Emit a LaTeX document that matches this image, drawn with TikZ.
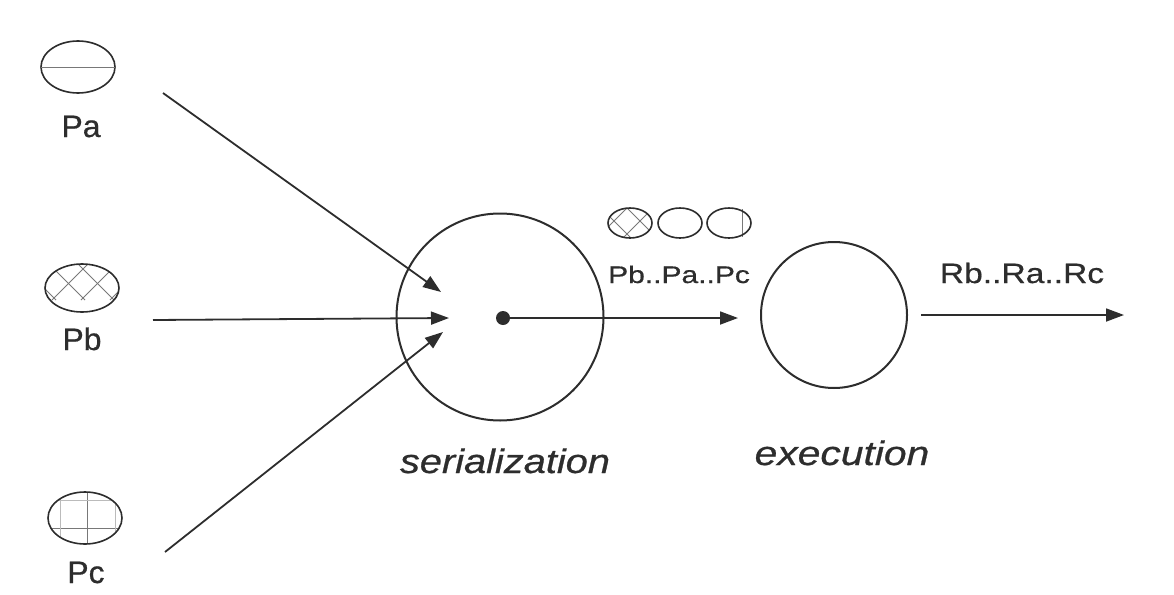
\documentclass[tikz,border=0pt]{standalone}
\usepackage{fontspec}
\setmainfont{Liberation Sans}[FakeBold=0.6]
\usetikzlibrary{arrows.meta}
\definecolor{ink}{RGB}{45,45,45}
\definecolor{hatch}{RGB}{120,120,120}
\tikzset{
  proc/.style={draw=ink, line width=1.6pt},
  bigcircle/.style={draw=ink, line width=2pt, circle, minimum size=#1, inner sep=0pt},
  flow/.style={draw=ink, line width=1.8pt, -{Triangle[length=18pt,width=13pt]}},
  lbl/.style={text=ink, inner sep=0pt, anchor=base},
  hl/.style={draw=hatch, line width=0.8pt}
}
\newcommand{\wlbl}[3]{{\fontsize{#1}{#1}\selectfont\scalebox{#2}[1]{#3}}}
\begin{document}
\begin{tikzpicture}[x=1pt,y=-1pt]
\useasboundingbox (0,0) rectangle (1174,594);
% Pa
\draw[proc] (78,67) ellipse [x radius=37, y radius=26];
\draw[hl] (41,67) -- (115,67);
\node[lbl] (pa) at (81,137) {\wlbl{31}{1.03}{Pa}};
\coordinate (pa0) at (163,93);
% Pb
\begin{scope}
\clip (82,288) ellipse [x radius=37, y radius=24];
\foreach \c in {294,323,352,381,410,439} {\draw[hl] (\c-300,300) -- (\c,0);}
\foreach \c in {-273,-244,-215,-186,-157,-128} {\draw[hl] (\c+300,300) -- (\c,0);}
\end{scope}
\draw[proc] (82,288) ellipse [x radius=37, y radius=24];
\node[lbl] (pb) at (82,350) {\wlbl{31}{1.03}{Pb}};
\coordinate (pb0) at (153,320);
% Pc
\begin{scope}
\clip (85,518) ellipse [x radius=37, y radius=26];
\draw[hl] (40,528) -- (130,528);
\draw[hl] (87,480) -- (87,560);
\draw[hl, draw=hatch!50] (60,480) -- (60,560);
\draw[hl, draw=hatch!50] (115,480) -- (115,560);
\draw[hl, draw=hatch!50] (40,500) -- (130,500);
\end{scope}
\draw[proc] (85,518) ellipse [x radius=37, y radius=26];
\node[lbl] (pc) at (86,583) {\wlbl{31}{1.03}{Pc}};
\coordinate (pc0) at (165,552);
% serialization
\node[bigcircle=207pt] (ser) at (500,317) {};
\fill[ink] (503,318) circle [radius=7] coordinate (dot);
\coordinate (ta) at (441,292);
\coordinate (tb) at (449,318);
\coordinate (tc) at (443,332);
\draw[flow] (pa0) -- (ta);
\draw[flow] (pb0) -- (tb);
\draw[flow] (pc0) -- (tc);
\coordinate (sout) at (738,318);
\draw[flow] (dot) -- (sout);
\node[lbl] (sl) at (505,473) {\wlbl{34}{1.17}{\itshape serialization}};
% small ellipses
\begin{scope}
\clip (630,223) ellipse [x radius=22, y radius=15];
\foreach \c in {835,861} {\draw[hl] (\c-300,300) -- (\c,0);}
\foreach \c in {393,419} {\draw[hl] (\c+300,300) -- (\c,0);}
\end{scope}
\draw[proc] (630,223) ellipse [x radius=22, y radius=15];
\draw[proc] (680,223) ellipse [x radius=22, y radius=15];
\draw[hl] (742,209) -- (742,237);
\draw[proc] (729,223) ellipse [x radius=22, y radius=15];
\node[lbl] (seq) at (679,283) {\wlbl{24}{1.25}{Pb..Pa..Pc}};
% execution
\node[bigcircle=146pt] (exe) at (834,315) {};
\coordinate (e0) at (921,315);
\coordinate (e1) at (1124,315);
\draw[flow] (e0) -- (e1);
\node[lbl] (res) at (1022,283) {\wlbl{28}{1.2}{Rb..Ra..Rc}};
\node[lbl] (el) at (842,465) {\wlbl{34}{1.2}{\itshape execution}};
\end{tikzpicture}
\end{document}
